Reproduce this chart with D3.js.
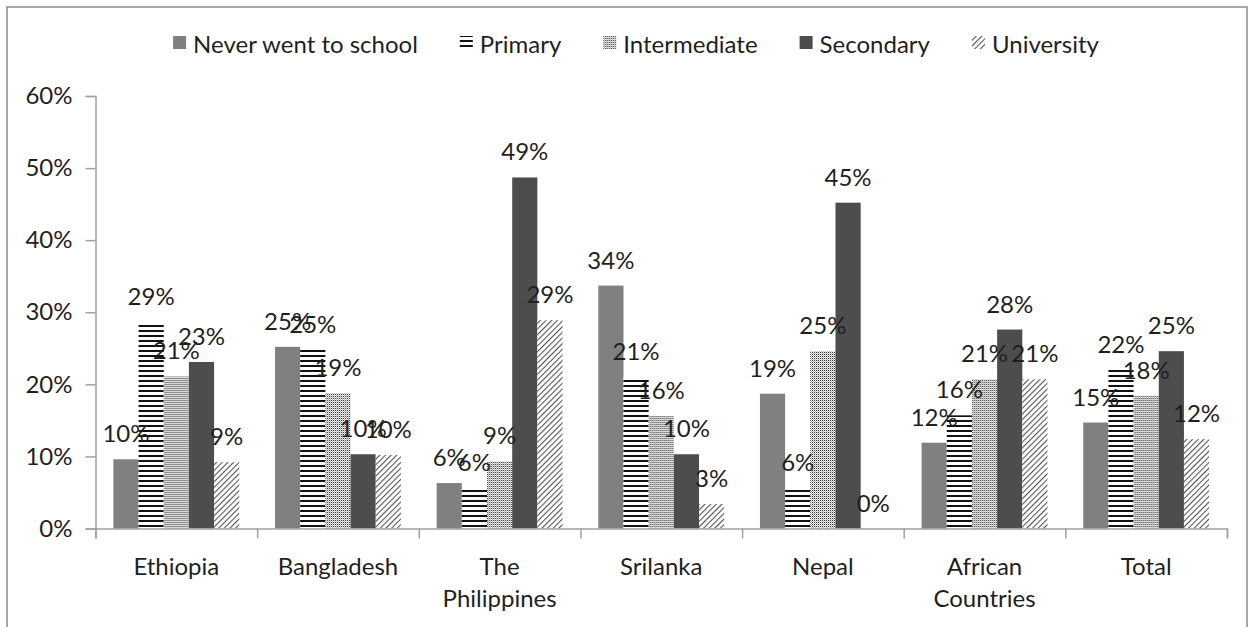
<!DOCTYPE html>
<html>
<head>
<meta charset="utf-8">
<script src="https://cdn.jsdelivr.net/npm/d3@7"></script>
<style>
  body { margin: 0; background: #fff; }
  text { font-family: Lato, "Noto Sans", sans-serif; fill: #1f1f1f; }
</style>
</head>
<body>
<div class="container"></div>
<script>
const width = 1254;
const height = 627;

const categories = ["Ethiopia", "Bangladesh", "The Philippines", "Srilanka", "Nepal", "African Countries", "Total"];
const categoryLines = [["Ethiopia"], ["Bangladesh"], ["The", "Philippines"], ["Srilanka"], ["Nepal"], ["African", "Countries"], ["Total"]];
const levels = ["Never went to school", "Primary", "Intermediate", "Secondary", "University"];

// percent values
const neverWent    = [9.6, 25.2, 6.3, 33.7, 18.7, 11.9, 14.7];
const primary      = [28.6, 24.8, 5.6, 21.0, 5.6, 15.7, 22.0];
const intermediate = [21.1, 18.8, 9.3, 15.6, 24.6, 20.7, 18.4];
const secondary    = [23.1, 10.3, 48.7, 10.3, 45.2, 27.6, 24.6];
const university   = [9.2, 10.2, 28.9, 3.4, 0, 20.7, 12.4];
const yTicks = [0, 10, 20, 30, 40, 50, 60];

const series = [neverWent, primary, intermediate, secondary, university];
const fills = ["#808080", "url(#hlines)", "url(#dots)", "#4d4d4d", "url(#diag)"];

const plotLeft = 95.5, plotRight = 1227, plotTop = 96, plotBottom = 528.5;

const svg = d3.select('.container')
    .append('svg')
    .attr('width', width)
    .attr('height', height);

const defs = svg.append('defs');

const hl = defs.append('pattern').attr('id', 'hlines')
    .attr('patternUnits', 'userSpaceOnUse').attr('width', 6).attr('height', 5);
hl.append('rect').attr('width', 6).attr('height', 5).attr('fill', '#fff');
hl.append('rect').attr('width', 6).attr('height', 2).attr('fill', '#111');

const dots = defs.append('pattern').attr('id', 'dots')
    .attr('patternUnits', 'userSpaceOnUse').attr('width', 2).attr('height', 2);
dots.append('rect').attr('width', 2).attr('height', 2).attr('fill', '#fff');
dots.append('rect').attr('width', 1).attr('height', 1).attr('fill', '#222');
dots.append('rect').attr('x', 1).attr('y', 1).attr('width', 1).attr('height', 1).attr('fill', '#b0b0b0');

const diag = defs.append('pattern').attr('id', 'diag')
    .attr('patternUnits', 'userSpaceOnUse').attr('width', 4).attr('height', 4)
    .attr('patternTransform', 'rotate(45)');
diag.append('rect').attr('width', 4).attr('height', 4).attr('fill', '#fff');
diag.append('rect').attr('width', 1.1).attr('height', 4).attr('fill', '#555');

// chart frame
svg.append('rect')
    .attr('x', 7).attr('y', 7)
    .attr('width', 1240).attr('height', 660)
    .attr('fill', 'none')
    .attr('stroke', '#8c8c8c')
    .attr('stroke-width', 1.5);

const x0 = d3.scaleBand()
    .domain(categories)
    .range([plotLeft, plotRight])
    .padding(0);

const x1 = d3.scaleBand()
    .domain(levels)
    .range([0, x0.bandwidth()])
    .paddingInner(0)
    .paddingOuter(0.71);

const yScale = d3.scaleLinear()
    .domain([0, 60])
    .range([plotBottom, plotTop]);

// y axis
const yAxis = svg.append('g')
    .attr('transform', `translate(${plotLeft},0)`)
    .call(d3.axisLeft(yScale).tickValues(yTicks).tickSize(10).tickPadding(13).tickFormat(d => d + '%'));
yAxis.select('.domain').attr('stroke', '#a0a0a0').attr('stroke-width', 1.5);
yAxis.selectAll('.tick line').attr('stroke', '#a0a0a0').attr('stroke-width', 1.5);
yAxis.selectAll('.tick text').attr('font-size', 24).attr('font-family', 'Lato').attr('fill', '#1f1f1f');

// bars
const groups = svg.selectAll('g.cat')
    .data(categories)
    .enter()
    .append('g')
    .attr('class', 'cat')
    .attr('transform', d => `translate(${x0(d)},0)`);

groups.selectAll('rect')
    .data((d, i) => levels.map((lv, j) => ({ level: lv, value: series[j][i], j })))
    .enter()
    .append('rect')
    .attr('x', d => x1(d.level))
    .attr('y', d => yScale(d.value))
    .attr('width', x1.bandwidth())
    .attr('height', d => plotBottom - yScale(d.value))
    .attr('fill', d => fills[d.j]);

groups.selectAll('text.val')
    .data((d, i) => levels.map((lv, j) => ({ level: lv, value: series[j][i] })))
    .enter()
    .append('text')
    .attr('class', 'val')
    .attr('x', d => x1(d.level) + x1.bandwidth() / 2)
    .attr('y', d => yScale(d.value) - 17)
    .attr('text-anchor', 'middle')
    .attr('font-size', 24)
    .text(d => Math.round(d.value) + '%');

// x axis with ticks at the category boundaries
const xb = d3.scaleLinear().domain([0, categories.length]).range([plotLeft, plotRight]);
const xAxis = svg.append('g')
    .attr('transform', `translate(0,${plotBottom})`)
    .call(d3.axisBottom(xb).tickValues(d3.range(categories.length + 1)).tickSize(10).tickFormat(''));
xAxis.select('.domain').attr('stroke', '#a0a0a0').attr('stroke-width', 1.5);
xAxis.selectAll('.tick line').attr('stroke', '#a0a0a0').attr('stroke-width', 1.5);

svg.selectAll('text.cat-label')
    .data(categories)
    .enter()
    .append('text')
    .attr('class', 'cat-label')
    .attr('text-anchor', 'middle')
    .attr('font-size', 24)
    .attr('y', 575)
    .each(function (d, i) {
        const t = d3.select(this);
        categoryLines[i].forEach((line, k) => {
            t.append('tspan')
                .attr('x', x0(d) + x0.bandwidth() / 2)
                .attr('dy', k === 0 ? 0 : 32)
                .text(line);
        });
    });

// legend
const legend = svg.append('g');
const items = legend.selectAll('g')
    .data(levels)
    .enter()
    .append('g');
items.append('rect')
    .attr('width', 13).attr('height', 13)
    .attr('y', 36)
    .attr('fill', (d, j) => fills[j]);
items.append('text')
    .attr('x', 20)
    .attr('y', 52.5)
    .attr('font-size', 24)
    .text(d => d);

const legendGap = 42;
let cursor = 0;
items.each(function () {
    const g = d3.select(this);
    g.attr('transform', `translate(${cursor},0)`);
    cursor += 20 + g.select('text').node().getComputedTextLength() + legendGap;
});
const legendWidth = cursor - legendGap;
legend.attr('transform', `translate(${636 - legendWidth / 2},0)`);
</script>
</body>
</html>
